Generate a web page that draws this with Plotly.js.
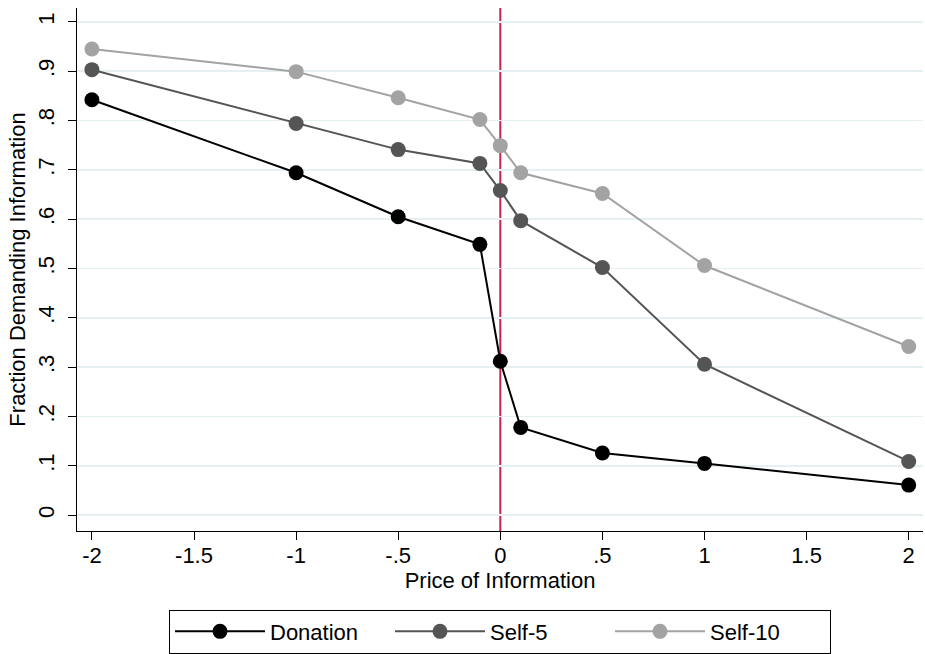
<!DOCTYPE html>
<html><head><meta charset="utf-8">
<script src="https://cdn.plot.ly/plotly-3.0.1.min.js"></script>
<style>html,body{margin:0;padding:0;background:#fff}</style>
</head><body>
<div id="chart" style="width:925px;height:654px"></div>
<script>
const prices = [-2, -1, -0.5, -0.1, 0, 0.1, 0.5, 1, 2];
const donation = [0.842, 0.694, 0.605, 0.549, 0.312, 0.178, 0.126, 0.105, 0.061];
const self5 = [0.903, 0.794, 0.741, 0.713, 0.658, 0.597, 0.502, 0.306, 0.109];
const self10 = [0.945, 0.899, 0.846, 0.802, 0.749, 0.694, 0.652, 0.506, 0.342];
const seriesNames = ["Donation", "Self-5", "Self-10"];
const xTickVals = [-2, -1.5, -1, -0.5, 0, 0.5, 1, 1.5, 2];
const xTickText = ["-2", "-1.5", "-1", "-.5", "0", ".5", "1", "1.5", "2"];
const yTickVals = [0, 0.1, 0.2, 0.3, 0.4, 0.5, 0.6, 0.7, 0.8, 0.9, 1];
const yTickText = ["0", ".1", ".2", ".3", ".4", ".5", ".6", ".7", ".8", ".9", "1"];
const colors = ["#000000", "#555555", "#a3a3a3"];

const font = "Liberation Sans, Arial, sans-serif";
const traces = [donation, self5, self10].map((ys, i) => ({
  x: prices, y: ys, name: seriesNames[i], type: "scatter", mode: "lines+markers",
  line: {color: colors[i], width: 2},
  marker: {color: colors[i], size: 15}
}));

const layout = {
  width: 925, height: 654,
  margin: {l: 77, r: 2, t: 8, b: 122},
  paper_bgcolor: "#fff", plot_bgcolor: "#fff",
  font: {family: font, color: "#000", size: 22},
  showlegend: true,
  legend: {
    orientation: "h", x: 0.5, xanchor: "center", y: -0.232, yanchor: "bottom",
    bordercolor: "#000", borderwidth: 1, font: {size: 22, family: font},
    entrywidth: 115, itemwidth: 90, traceorder: "normal"
  },
  xaxis: {
    range: [-2.073, 2.07], tickvals: xTickVals, ticktext: xTickText, tickangle: 0,
    showgrid: false, zeroline: false, showline: true, linecolor: "#000", linewidth: 1,
    ticks: "outside", ticklen: 8, tickcolor: "#000", tickfont: {size: 22},
    ticklabelstandoff: -3,
    title: {text: "Price of Information", font: {size: 22}, standoff: 2}
  },
  yaxis: {
    range: [-0.032, 1.028], tickvals: yTickVals, ticktext: yTickText, tickangle: -90,
    showgrid: true, gridcolor: "#e6eff1", gridwidth: 1.5, zeroline: false,
    showline: true, linecolor: "#000", linewidth: 1,
    ticks: "outside", ticklen: 8, tickcolor: "#000", tickfont: {size: 22},
    ticklabelstandoff: 5,
    title: {text: "Fraction Demanding Information", font: {size: 22}, standoff: 2}
  },
  shapes: [{type: "line", xref: "x", yref: "paper", x0: 0, x1: 0, y0: 0, y1: 1,
    line: {color: "#c8224e", width: 2}, layer: "below"}]
};
Plotly.newPlot("chart", traces, layout, {displayModeBar: false, staticPlot: true});
</script>
</body></html>
